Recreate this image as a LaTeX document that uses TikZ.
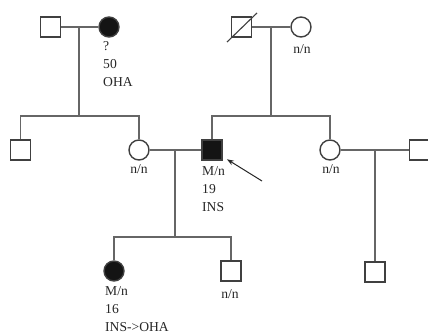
\documentclass[tikz,border=0pt]{standalone}
\usepackage{fontspec}
\setmainfont{Liberation Serif}
\usetikzlibrary{arrows.meta}
\definecolor{lncol}{gray}{0.4}
\definecolor{affcol}{gray}{0.08}
\begin{document}
\begin{tikzpicture}[x=1pt, y=-1pt,
    male/.style={draw=black!75, line width=1.4pt, fill=white, minimum size=20pt, inner sep=0pt},
    female/.style={male, circle},
    aff/.style={fill=affcol},
    rel/.style={draw=lncol, line width=1.5pt},
    lab/.style={font=\fontsize{13.6}{18}\selectfont, text=black!85, align=left, inner sep=0pt}]
    \useasboundingbox (0,0) rectangle (428,334);
    % generation I
    \node[male] (gf1) at (50.5,27) {};
    \node[female, aff] (gm1) at (109,27) {};
    \node[male] (gf2) at (241.5,27) {};
    \node[female] (gm2) at (301,27) {};
    \draw[draw=black!75, line width=1.1pt] (227,42) -- (257,13);
    % generation II
    \node[male] (u1) at (20.5,150) {};
    \node[female] (m1) at (139,150) {};
    \node[male, aff] (prob) at (212,150) {};
    \node[female] (m2) at (330,150) {};
    \node[male] (h2) at (419.5,150) {};
    % generation III
    \node[female, aff] (c1) at (114,271) {};
    \node[male] (c2) at (231,271) {};
    \node[male] (c3) at (375,272) {};

    \coordinate (mar1) at (79,27);
    \coordinate (sib1) at (79,116);
    \coordinate (mar2) at (271,27);
    \coordinate (sib2) at (271,116);
    \coordinate (mar3) at (175,150);
    \coordinate (sib3) at (175,237);
    \coordinate (mar4) at (375,150);

    \draw[rel] (gf1) -- (gm1);
    \draw[rel] (gf2) -- (gm2);
    \draw[rel] (m1) -- (prob);
    \draw[rel] (m2) -- (h2);
    \draw[rel] (mar1) -- (sib1);
    \draw[rel] (mar2) -- (sib2);
    \draw[rel] (mar3) -- (sib3);
    \draw[rel] (mar4) -- (c3);
    \draw[rel] (u1) |- (sib1) -| (m1);
    \draw[rel] (prob) |- (sib2) -| (m2);
    \draw[rel] (c1) |- (sib3) -| (c2);

    % labels
    \node[lab, anchor=north west] (t1) at (103,41) {?\\50\\OHA};
    \node[lab, anchor=north] (t2) at (302,44) {n/n};
    \node[lab, anchor=north] (t3) at (139,164) {n/n};
    \node[lab, anchor=north west] (t4) at (202,166) {M/n\\19\\INS};
    \node[lab, anchor=north] (t5) at (331,164) {n/n};
    \node[lab, anchor=north west] (t6) at (105,286) {M/n\\16\\INS->OHA};
    \node[lab, anchor=north] (t7) at (230,289) {n/n};

    \coordinate (arr) at (262,181);
    \draw[-{Stealth[length=7pt, width=5pt]}, black!85, line width=1pt, shorten >=5pt] (arr) -- (prob);
\end{tikzpicture}
\end{document}
